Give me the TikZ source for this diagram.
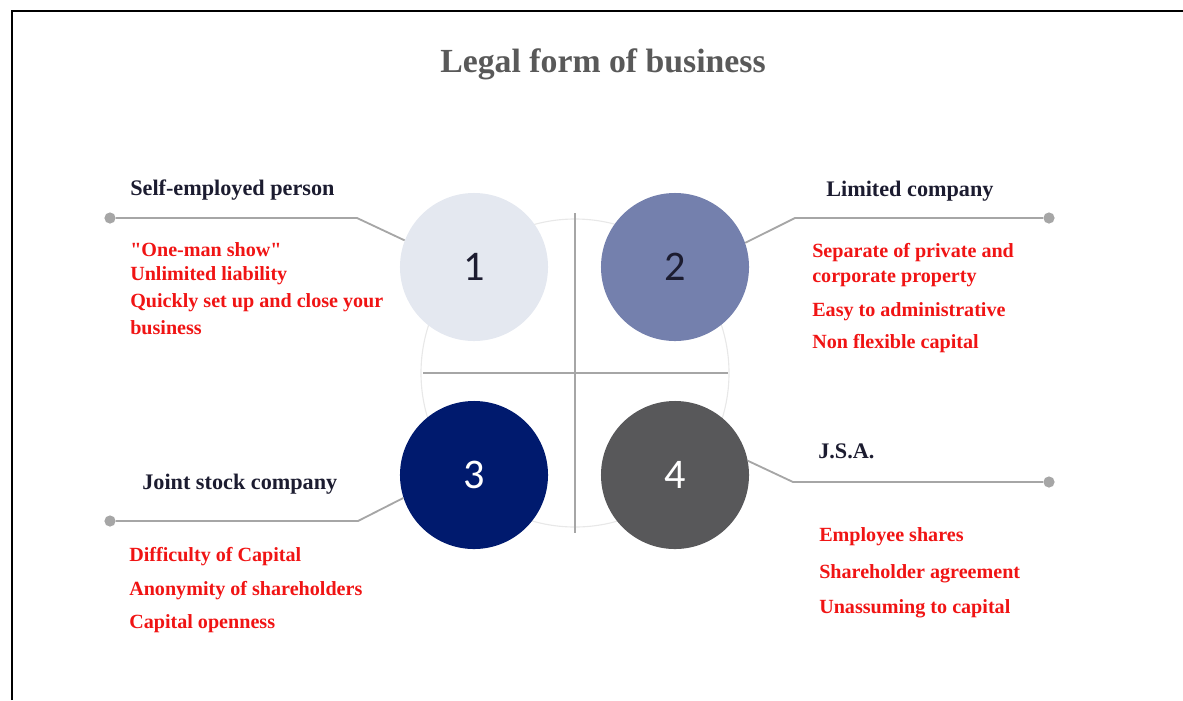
\documentclass[tikz,border=0pt]{standalone}
\usepackage{fontspec}
\setmainfont{Liberation Serif}
\newfontfamily\numfont{Carlito}
\usepackage{xcolor}

\definecolor{titlegray}{HTML}{595959}
\definecolor{headink}{HTML}{1C1C30}
\definecolor{notered}{HTML}{F01414}
\definecolor{leadgray}{HTML}{A6A6A6}
\definecolor{fillone}{HTML}{E4E8F0}
\definecolor{filltwo}{HTML}{7480AD}
\definecolor{fillthree}{HTML}{001A6E}
\definecolor{fillfour}{HTML}{58585A}

\tikzset{
  bubble/.style={circle, minimum size=3.7cm, inner sep=0pt, draw=none,
    font=\numfont\fontsize{30}{31}\selectfont},
  dotend/.style={circle, fill=leadgray, minimum size=0.28cm, inner sep=0pt},
  leader/.style={leadgray, line width=1.3pt},
  head/.style={anchor=west, inner sep=0pt, text=headink, font=\bfseries\fontsize{15.8}{17}\selectfont},
  note/.style={anchor=west, inner sep=0pt, text=notered, font=\bfseries\fontsize{14.3}{16}\selectfont}
}

\begin{document}
\begin{tikzpicture}[x=0.025cm,y=-0.025cm]
\useasboundingbox (0,0) rectangle (1183,700);
% frame
\draw [black, line width=2pt] (12,700) -- (12,11) -- (1183,11);
% title
\node [text=titlegray, font=\bfseries\fontsize{24}{26}\selectfont] (title) at (603,64) {Legal form of business};
% faint ring and cross
\draw [black!9, line width=0.8pt] (575,373) circle (154);
\draw [black!35, line width=0.9pt] (575,213) -- (575,533);
\draw [black!35, line width=0.9pt] (423,373) -- (728,373);
% the four bubbles
\node [bubble, fill=fillone, text=headink] (b1) at (474,267) {1};
\node [bubble, fill=filltwo, text=headink] (b2) at (675,267) {2};
\node [bubble, fill=fillthree, text=white] (b3) at (474,475) {3};
\node [bubble, fill=fillfour, text=white] (b4) at (675,475) {4};
% leader ends and bends
\node [dotend] (d1) at (110,218) {};
\node [dotend] (d2) at (1049,218) {};
\node [dotend] (d3) at (110,521) {};
\node [dotend] (d4) at (1049,482) {};
\coordinate (k1) at (357,218);
\coordinate (k2) at (795,218);
\coordinate (k3) at (358,521);
\coordinate (k4) at (793,482);
\draw [leader] (d1) -- (k1) -- (b1.159);
\draw [leader] (d2) -- (k2) -- (b2.19);
\draw [leader] (d3) -- (k3) -- (b3.198);
\draw [leader] (d4) -- (k4) -- (b4.11);
% headings
\node [head] (h1) at (130,190) {Self-employed person};
\node [head] (h2) at (826,191) {Limited company};
\node [head] (h3) at (142,484) {Joint stock company};
\node [head] (h4) at (818,451) {J.S.A.};
% notes
\foreach \y/\t [count=\i] in {250/{\textquotedbl One-man show\textquotedbl}, 276/{Unlimited liability},
    303/{Quickly set up and close your}, 328/{business}}
  \node [note] (n1\i) at (130,\y) {\t};
\foreach \y/\t [count=\i] in {253/{Separate of private and}, 279/{corporate property},
    312/{Easy to administrative}, 344/{Non flexible capital}}
  \node [note] (n2\i) at (812,\y) {\t};
\foreach \y/\t [count=\i] in {557/{Difficulty of Capital}, 591/{Anonymity of shareholders},
    624/{Capital openness}}
  \node [note] (n3\i) at (129,\y) {\t};
\foreach \y/\t [count=\i] in {537/{Employee shares}, 574/{Shareholder agreement},
    609/{Unassuming to capital}}
  \node [note] (n4\i) at (819,\y) {\t};
\end{tikzpicture}
\end{document}
